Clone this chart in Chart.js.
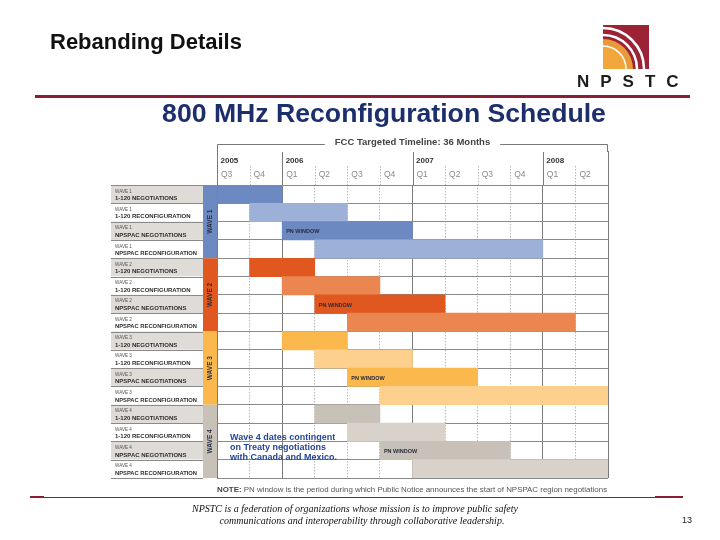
<!DOCTYPE html>
<html>
<head>
<meta charset="utf-8">
<title>Rebanding Details</title>
<script src="https://cdn.jsdelivr.net/npm/chart.js@4.4.1/dist/chart.umd.min.js"></script>
<style>
  body { margin: 0; background: #fff; }
  #slide { position: relative; width: 720px; height: 540px; overflow: hidden; font-family: Arial, "Liberation Sans", sans-serif; }
  #chart { position: absolute; left: 0; top: 0; }
  .heading { position: absolute; left: 50px; top: 29px; font-size: 22px; font-weight: bold; color: #111; }
  .logo { position: absolute; left: 603px; top: 25px; }
  .brand { position: absolute; left: 577px; top: 72px; font-size: 17px; font-weight: bold; letter-spacing: 11px; color: #1c1c1c; }
  .rule { position: absolute; background: #8c1d35; }
  .foot { position: absolute; width: 400px; text-align: center; font-family: "Liberation Serif", "Times New Roman", serif; font-style: italic; font-size: 10px; color: #111; white-space: nowrap; }
  .page { position: absolute; left: 682px; top: 515px; font-size: 9px; color: #222; }
</style>
</head>
<body>
<div id="slide">
  <canvas id="chart" width="720" height="540"></canvas>
  <div class="heading">Rebanding Details</div>
  <svg class="logo" width="46" height="44" viewBox="0 0 46 44">
    <rect width="46" height="44" fill="#9b2335"/>
    <path d="M0 44 L0 20 A24 24 0 0 1 24 44 Z" fill="#f2a73c"/>
    <path d="M0 44 L0 14 A30 30 0 0 1 30 44 Z" fill="#f2a73c" opacity="0.9"/>
    <path d="M0 10 A34 34 0 0 1 34 44" fill="none" stroke="#fff" stroke-width="2.5"/>
    <path d="M0 3 A41 41 0 0 1 41 44" fill="none" stroke="#fff" stroke-width="2.5"/>
    <path d="M0 21 A23 23 0 0 1 23 44" fill="none" stroke="#fff" stroke-width="1.5"/>
  </svg>
  <div class="brand">NPSTC</div>
  <div class="rule" style="left:35px; top:95px; width:655px; height:2.5px;"></div>
  <div class="rule" style="left:30px; top:497px; width:653px; height:1px;"></div>
  <div class="rule" style="left:30px; top:496px; width:14px; height:2px;"></div>
  <div class="rule" style="left:655px; top:496px; width:28px; height:2px;"></div>
  <div class="foot" style="left:155px; top:503px;">NPSTC is a federation of organizations whose mission is to improve public safety</div>
  <div class="foot" style="left:162px; top:515px;">communications and interoperability through collaborative leadership.</div>
  <div class="page">13</div>
</div>

<script>
// schedule data (quarter index 0 = Q3 2005)
var waves = ['WAVE 1', 'WAVE 2', 'WAVE 3', 'WAVE 4'];
var tasks = ['1-120 NEGOTIATIONS', '1-120 RECONFIGURATION', 'NPSPAC NEGOTIATIONS', 'NPSPAC RECONFIGURATION'];
var years = ['2005', '2006', '2007', '2008'];
var yearStartQ = [0, 2, 6, 10];
var quarters = ['Q3', 'Q4', 'Q1', 'Q2', 'Q3', 'Q4', 'Q1', 'Q2', 'Q3', 'Q4', 'Q1', 'Q2'];
var startQ = [0, 1, 2, 3, 1, 2, 3, 4, 2, 3, 4, 5, 3, 4, 5, 6];
var endQ = [2, 4, 6, 10, 3, 5, 7, 11, 4, 6, 8, 12, 5, 7, 9, 12];
var pnRows = [2, 6, 10, 14];

var darkColors = ['#6d89c1', '#e0571f', '#fbb94d', '#c8c1b8'];
var lightColors = ['#9db1d8', '#eb8651', '#fdd18d', '#d8d2ca'];

var rowLabels = [];
var barData = [];
var barColors = [];
for (var i = 0; i < startQ.length; i++) {
    var w = Math.floor(i / tasks.length);
    var t = i % tasks.length;
    rowLabels.push([waves[w], tasks[t]]);
    barData.push([startQ[i], endQ[i]]);
    barColors.push(t % 2 == 0 ? darkColors[w] : lightColors[w]);
}

function isYearLine(v) {
    return yearStartQ.indexOf(v) >= 0 || v == quarters.length;
}

var schedulePlugin = {
    id: 'schedule',
    afterDraw: function (chart) {
        var ctx = chart.ctx;
        var area = chart.chartArea;
        var x = chart.scales.x;
        var y = chart.scales.y;
        var rowH = y.getPixelForValue(1) - y.getPixelForValue(0);
        var labelLeft = area.left - 106;
        var waveLeft = area.left - 14;

        ctx.save();

        // big title
        ctx.fillStyle = '#1c2f6c';
        ctx.textBaseline = 'alphabetic';
        ctx.textAlign = 'center';
        ctx.font = 'bold 24px Arial';
        var tw = ctx.measureText('800 MHz Reconfiguration Schedule').width;
        ctx.font = 'bold ' + (24 * 444 / tw).toFixed(2) + 'px Arial';
        ctx.fillText('800 MHz Reconfiguration Schedule', 384, 122);

        // FCC bracket
        var mid = (area.left + area.right) / 2;
        ctx.font = 'bold 9.5px Arial';
        var hw = ctx.measureText('FCC Targeted Timeline: 36 Months').width / 2 + 10;
        ctx.strokeStyle = '#777';
        ctx.lineWidth = 1;
        ctx.beginPath();
        ctx.moveTo(area.left + 0.5, 151); ctx.lineTo(area.left + 0.5, 144.5); ctx.lineTo(mid - hw, 144.5);
        ctx.moveTo(mid + hw, 144.5); ctx.lineTo(area.right - 0.5, 144.5); ctx.lineTo(area.right - 0.5, 152);
        ctx.stroke();
        ctx.fillStyle = '#444';
        ctx.textBaseline = 'middle';
        ctx.fillText('FCC Targeted Timeline: 36 Months', mid, 142);

        // header lines, years, quarters
        for (var q = 0; q <= quarters.length; q++) {
            var px = Math.round(x.getPixelForValue(q)) + 0.5;
            ctx.beginPath();
            if (isYearLine(q)) {
                ctx.setLineDash([]);
                ctx.strokeStyle = '#7a7a7a';
                ctx.moveTo(px, q == 0 || q == quarters.length ? 151 : 152);
            } else {
                ctx.setLineDash([1.5, 1.5]);
                ctx.strokeStyle = '#b8b8b8';
                ctx.moveTo(px, 166);
            }
            ctx.lineTo(px, area.top);
            ctx.stroke();
        }
        ctx.setLineDash([]);
        ctx.textAlign = 'left';
        ctx.fillStyle = '#333';
        ctx.font = 'bold 8px Arial';
        for (var k = 0; k < years.length; k++) {
            ctx.fillText(years[k], x.getPixelForValue(yearStartQ[k]) + 3.5, 161);
        }
        ctx.fillStyle = '#8a8a8a';
        ctx.font = '8.5px Arial';
        for (var q2 = 0; q2 < quarters.length; q2++) {
            ctx.fillText(quarters[q2], x.getPixelForValue(q2) + 4, 174.5);
        }

        // row label column
        for (var r = 0; r < rowLabels.length; r++) {
            var top = y.getPixelForValue(r) - rowH / 2;
            ctx.fillStyle = r % 2 == 0 ? '#dfdcd7' : '#ffffff';
            ctx.fillRect(labelLeft, top, waveLeft - labelLeft, rowH);
            ctx.fillStyle = '#555';
            ctx.font = '4.6px Arial';
            ctx.fillText(rowLabels[r][0], labelLeft + 4, top + 6.3);
            ctx.fillStyle = '#2e2e2e';
            ctx.font = 'bold 6px Arial';
            ctx.fillText(rowLabels[r][1], labelLeft + 4, top + 13.5, 82);
        }
        ctx.strokeStyle = '#8a8a8a';
        ctx.beginPath();
        for (var b = 0; b <= rowLabels.length; b++) {
            var py = Math.round(y.getPixelForValue(b) - rowH / 2) + 0.5;
            ctx.moveTo(labelLeft, py);
            ctx.lineTo(waveLeft, py);
        }
        ctx.stroke();

        // wave column
        for (var wv = 0; wv < waves.length; wv++) {
            var wt = y.getPixelForValue(wv * 4) - rowH / 2;
            var wb = y.getPixelForValue(wv * 4 + 3) + rowH / 2;
            ctx.fillStyle = darkColors[wv];
            ctx.fillRect(waveLeft, wt, area.left - waveLeft, wb - wt);
            ctx.save();
            ctx.translate(waveLeft + 7.5, (wt + wb) / 2);
            ctx.rotate(-Math.PI / 2);
            ctx.textAlign = 'center';
            ctx.fillStyle = '#2a2f4a';
            ctx.font = 'bold 6.5px Arial';
            ctx.fillText(waves[wv], 0, 0);
            ctx.restore();
        }

        // PN WINDOW tags
        ctx.fillStyle = '#2a2d40';
        ctx.font = 'bold 5.5px Arial';
        for (var p = 0; p < pnRows.length; p++) {
            ctx.fillText('PN WINDOW', x.getPixelForValue(startQ[pnRows[p]]) + 4, y.getPixelForValue(pnRows[p]) + 1);
        }

        // wave 4 remark
        ctx.fillStyle = '#24479a';
        ctx.font = 'bold 9px Arial';
        var rx = x.getPixelForValue(0) + 13;
        var ry = y.getPixelForValue(13) + 5;
        ctx.fillText('Wave 4 dates contingent', rx, ry);
        ctx.fillText('on Treaty negotiations', rx, ry + 10);
        ctx.fillText('with Canada and Mexico.', rx, ry + 20);

        // note line
        var noteA = 'NOTE: ';
        var noteB = 'PN window is the period during which Public Notice announces the start of NPSPAC region negotiations';
        var fs = 7;
        ctx.font = 'bold ' + fs + 'px Arial';
        var wa = ctx.measureText(noteA).width;
        ctx.font = fs + 'px Arial';
        var wb2 = ctx.measureText(noteB).width;
        var sc = (area.right - area.left) / (wa + wb2);
        fs = fs * sc;
        ctx.font = 'bold ' + fs + 'px Arial';
        wa = ctx.measureText(noteA).width;
        ctx.fillStyle = '#444';
        ctx.fillText(noteA, area.left, 490);
        ctx.font = fs + 'px Arial';
        ctx.fillStyle = '#555';
        ctx.fillText(noteB, area.left + wa, 490);

        ctx.restore();
    }
};

var ctx = document.getElementById('chart').getContext('2d');
var mySchedule = new Chart(ctx, {
    type: 'bar',
    data: {
        labels: rowLabels,
        datasets: [{
            data: barData,
            backgroundColor: barColors,
            borderWidth: 0,
            borderSkipped: false,
            barPercentage: 1,
            categoryPercentage: 1
        }]
    },
    options: {
        indexAxis: 'y',
        responsive: false,
        animation: false,
        devicePixelRatio: 1,
        events: [],
        layout: { padding: { left: 217, right: 112, top: 185, bottom: 62 } },
        plugins: { legend: { display: false }, tooltip: { enabled: false } },
        scales: {
            x: {
                min: 0,
                max: quarters.length,
                z: 1,
                ticks: { display: false, stepSize: 1 },
                grid: {
                    drawTicks: false,
                    color: function (c) { return c.tick && isYearLine(c.tick.value) ? '#7a7a7a' : '#b8b8b8'; }
                },
                border: {
                    display: false,
                    dash: function (c) { return c.tick && isYearLine(c.tick.value) ? [] : [1.5, 1.5]; }
                }
            },
            y: {
                z: 1,
                ticks: { display: false },
                grid: { drawTicks: false, color: '#8a8a8a', offset: true },
                border: { display: false }
            }
        }
    },
    plugins: [schedulePlugin]
});
</script>
</body>
</html>
